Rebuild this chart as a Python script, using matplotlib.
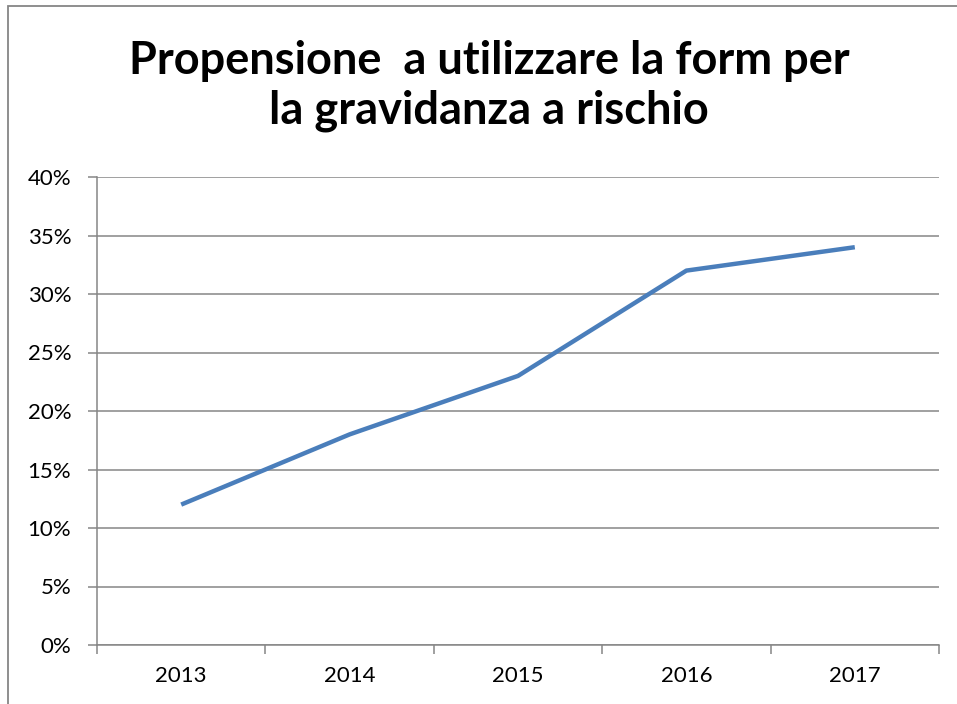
import matplotlib.pyplot as plt
from matplotlib.patches import Rectangle
from matplotlib.ticker import FuncFormatter, MultipleLocator

# dati
anni = ["2013", "2014", "2015", "2016", "2017"]
propensione = [0.12, 0.18, 0.23, 0.32, 0.34]

titolo = "Propensione  a utilizzare la form per\nla gravidanza a rischio"

plt.rcParams["font.family"] = ["Lato", "DejaVu Sans"]
grigio = "#868686"

fig = plt.figure(figsize=(9.57, 7.04), dpi=100)
ax = fig.add_axes([97/957, 1 - 645/704, (939-97)/957, (645-177)/704])

x = list(range(len(anni)))
ax.plot(x, propensione, color="#4A7EBB", linewidth=3.2, solid_capstyle="butt", zorder=3)

ax.set_xlim(-0.5, len(anni) - 0.5)
ax.set_ylim(0, 0.40)
ax.yaxis.set_major_locator(MultipleLocator(0.05))
ax.yaxis.set_major_formatter(FuncFormatter(lambda v, p: f"{v*100:.0f}%"))
ax.grid(axis="y", color=grigio, linewidth=1.1)
ax.set_axisbelow(True)

# tick delle categorie ai bordi, etichette al centro
ax.set_xticks([i - 0.5 for i in range(len(anni) + 1)])
ax.set_xticklabels([])
ax.set_xticks(x, minor=True)
ax.set_xticklabels(anni, minor=True)
ax.tick_params(axis="x", which="major", length=6.5, width=1.1, color=grigio)
ax.tick_params(axis="x", which="minor", length=0, labelsize=16, pad=15)
ax.tick_params(axis="y", length=6.5, width=1.1, color=grigio, labelsize=16, pad=12)

for s in ["top", "right"]:
    ax.spines[s].set_visible(False)
for s in ["left", "bottom"]:
    ax.spines[s].set_color(grigio)
    ax.spines[s].set_linewidth(1.1)

fig.text(489/957, 1 - 86/704, titolo, ha="center", va="center",
         fontsize=32.5, fontweight="bold", linespacing=1.2)

# cornice del grafico
fig.patches.append(Rectangle((8/957, -0.1), 1.2, 1 - 6/704 + 0.1,
                             transform=fig.transFigure, fill=False,
                             edgecolor=grigio, linewidth=1.3))

fig.savefig("out.png", dpi=100)
plt.close()
